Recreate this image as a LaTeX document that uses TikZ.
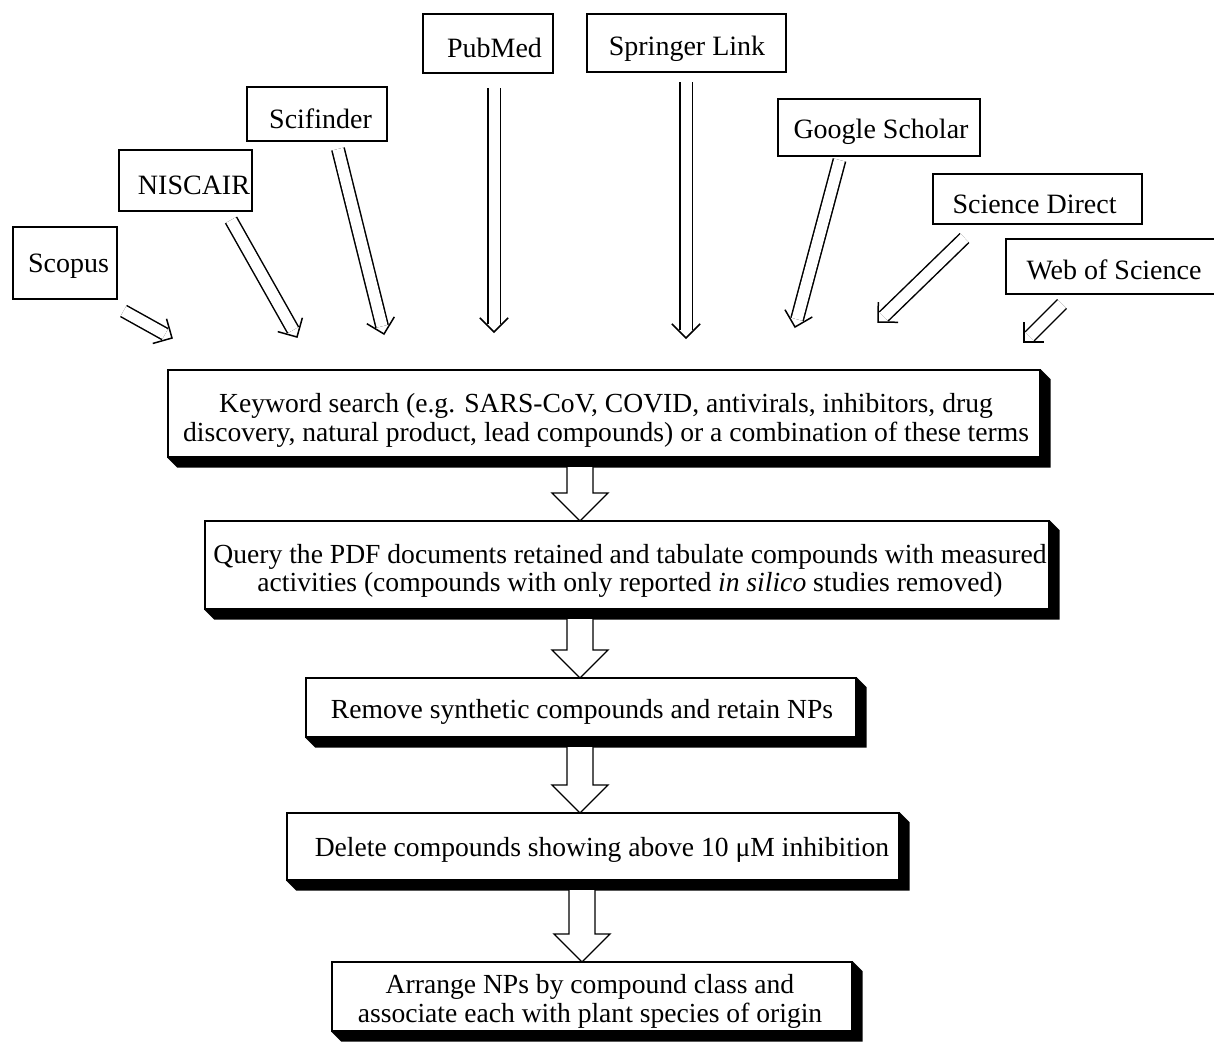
\documentclass[tikz,border=0pt]{standalone}
\usepackage{fontspec}
\setmainfont{Liberation Serif}
\usetikzlibrary{calc}
\tikzset{
  srcbox/.style={draw, line width=1.3pt, fill=white, inner sep=0pt},
  srctext/.style={inner sep=0pt, font=\fontsize{28}{30}\selectfont},
  mainbox/.style={draw, line width=1.3pt, fill=white, inner sep=0pt},
  maintext/.style={inner sep=0pt, align=center, font=\fontsize{27.6}{28.5}\selectfont},
  dbl/.style={double, double distance=11pt, line width=1.5pt, shorten >=8pt},
  headv/.style={line width=1.5pt},
  blk/.style={draw, line width=1.3pt, fill=white, line join=miter}
}
\newcommand\dblarrow[2]{%
  \draw[dbl] (#1) -- (#2);
  \draw[headv] ($(#2)!20pt!45:(#1)$) -- (#2) -- ($(#2)!20pt!-45:(#1)$);
}
\newcommand\shadowbox[1]{%
  \fill (#1.south west) -- ++(10,10) -- ($(#1.south east)+(10,10)$) -- ($(#1.north east)+(10,10)$) -- (#1.north east) -- (#1.south east) -- cycle;
}
\newcommand\blockarr[2]{%
  \draw[blk] ($(#1)+(-13,0)$) -- ($(#2)+(-13,-28)$) -- ($(#2)+(-28,-28)$) -- (#2) -- ($(#2)+(28,-28)$) -- ($(#2)+(13,-28)$) -- ($(#1)+(13,0)$);
}
\begin{document}
\begin{tikzpicture}[x=1pt,y=-1pt]
\useasboundingbox (0,0) rectangle (1214,1050);
% source boxes
\node[srcbox, minimum width=104pt, minimum height=72pt] (scopus) at (65,263) {};
\node[srcbox, minimum width=133pt, minimum height=61pt] (niscair) at (185.5,180.5) {};
\node[srcbox, minimum width=140pt, minimum height=54pt] (scifinder) at (317,114) {};
\node[srcbox, minimum width=130pt, minimum height=59pt] (pubmed) at (488,43.5) {};
\node[srcbox, minimum width=199pt, minimum height=58pt] (springer) at (686.5,43) {};
\node[srcbox, minimum width=202pt, minimum height=57pt] (google) at (879,127.5) {};
\node[srcbox, minimum width=209pt, minimum height=50pt] (scidirect) at (1037.5,199) {};
\node[srcbox, minimum width=210pt, minimum height=55pt] (wos) at (1111,266.5) {};
\node[srctext] (scopusT) at (68.5,266) {Scopus};
\node[srctext] (niscairT) at (194,185.5) {NISCAIR};
\node[srctext] (scifinderT) at (320.5,119) {Scifinder};
\node[srctext] (pubmedT) at (494.5,47.5) {PubMed};
\node[srctext] (springerT) at (687,49) {Springer Link};
\node[srctext] (googleT) at (881,131.5) {Google Scholar};
\node[srctext] (scidirectT) at (1034.5,204) {Science Direct};
\node[srctext] (wosT) at (1114,269.5) {Web of Science};
% tails and tips
\coordinate (t1) at (123.5,311); \coordinate (p1) at (172,338);
\coordinate (t2) at (231,220);   \coordinate (p2) at (297,337);
\coordinate (t3) at (338,149);   \coordinate (p3) at (384,334);
\coordinate (t4) at (494,88);    \coordinate (p4) at (494,332);
\coordinate (t5) at (686,82);    \coordinate (p5) at (686,338);
\coordinate (t6) at (839.5,160); \coordinate (p6) at (795,327);
\coordinate (t7) at (964.5,238); \coordinate (p7) at (878,322);
\coordinate (t8) at (1062,304);  \coordinate (p8) at (1024,342);
\dblarrow{t1}{p1}
\dblarrow{t2}{p2}
\dblarrow{t3}{p3}
\dblarrow{t4}{p4}
\dblarrow{t5}{p5}
\dblarrow{t6}{p6}
\dblarrow{t7}{p7}
\dblarrow{t8}{p8}
% main boxes
\node[mainbox, minimum width=872pt, minimum height=87pt] (b1) at (604,413.5) {};
\node[mainbox, minimum width=844pt, minimum height=88pt] (b2) at (627,565) {};
\node[mainbox, minimum width=550pt, minimum height=59pt] (b3) at (581,707.5) {};
\node[mainbox, minimum width=612pt, minimum height=67pt] (b4) at (593,846.5) {};
\node[mainbox, minimum width=520pt, minimum height=69pt] (b5) at (592,996.5) {};
\shadowbox{b1}
\shadowbox{b2}
\shadowbox{b3}
\shadowbox{b4}
\shadowbox{b5}
\node[maintext] (b1T) at (606,420.5)
  {Keyword search (e.g. SARS-CoV, COVID, antivirals, inhibitors, drug\\discovery, natural product, lead compounds) or a combination of these terms};
\node[maintext] (b2T) at (630,571)
  {Query the PDF documents retained and tabulate compounds with measured\\activities (compounds with only reported \textit{in silico} studies removed)};
\node[maintext] (b3T) at (582,711.5) {Remove synthetic compounds and retain NPs};
\node[maintext] (b4T) at (602,849.5) {Delete compounds showing above 10 μM inhibition};
\node[maintext] (b5T) at (590,1001.5)
  {Arrange NPs by compound class and\\associate each with plant species of origin};
% block arrows
\coordinate (s1) at (580,467); \coordinate (e1) at (580,521);
\coordinate (s2) at (580,619); \coordinate (e2) at (580,678);
\coordinate (s3) at (580,747); \coordinate (e3) at (580,813);
\coordinate (s4) at (582,890); \coordinate (e4) at (582,962);
\blockarr{s1}{e1}
\blockarr{s2}{e2}
\blockarr{s3}{e3}
\blockarr{s4}{e4}
\end{tikzpicture}
\end{document}
